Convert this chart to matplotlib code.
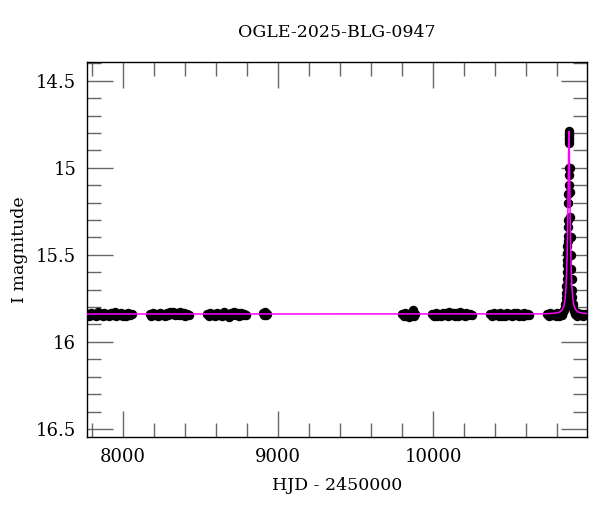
import matplotlib
matplotlib.use("Agg")
import matplotlib.pyplot as plt
from matplotlib.ticker import MultipleLocator

# --- data ---
TITLE = "OGLE-2025-BLG-0947"

s1_t = [7772, 7780, 7790, 7801, 7812, 7823, 7834, 7845, 7856, 7867, 7878, 7889, 7900, 7911,
        7922, 7933, 7944, 7955, 7966, 7977, 7988, 7999, 8010, 8021, 8032, 8043, 8054]
s1_m = [15.842, 15.850, 15.835, 15.848, 15.838, 15.852, 15.830, 15.845, 15.840, 15.853,
        15.832, 15.846, 15.838, 15.850, 15.834, 15.844, 15.829, 15.851, 15.840, 15.846,
        15.833, 15.849, 15.838, 15.852, 15.836, 15.845, 15.842]

s2_t = [8170, 8181, 8192, 8203, 8214, 8225, 8236, 8247, 8258, 8269, 8280, 8291,
        8302, 8313, 8324, 8335, 8346, 8357, 8368, 8379, 8390, 8401, 8412, 8423]
s2_m = [15.842, 15.850, 15.836, 15.848, 15.840, 15.853, 15.834, 15.846, 15.839, 15.851,
        15.835, 15.845, 15.830, 15.842, 15.828, 15.846, 15.832, 15.844, 15.829, 15.847,
        15.836, 15.850, 15.840, 15.846]

s3_t = [8540, 8551, 8562, 8573, 8584, 8595, 8606, 8617, 8628, 8639, 8650, 8661,
        8672, 8683, 8694, 8705, 8716, 8727, 8738, 8749, 8760, 8771, 8782, 8793]
s3_m = [15.838, 15.850, 15.834, 15.847, 15.840, 15.852, 15.832, 15.846, 15.837, 15.851,
        15.831, 15.845, 15.838, 15.855, 15.834, 15.848, 15.830, 15.846, 15.836, 15.852,
        15.833, 15.847, 15.838, 15.845]

s4_t = [8903, 8910, 8917, 8924, 8931]
s4_m = [15.836, 15.848, 15.830, 15.846, 15.840]

s5_t = [9803, 9812, 9821, 9830, 9839, 9848, 9857, 9866, 9870, 9875, 9884]
s5_m = [15.840, 15.852, 15.836, 15.849, 15.842, 15.855, 15.838, 15.846, 15.818, 15.850, 15.842]

s6_t = [9996, 10007, 10018, 10029, 10040, 10051, 10062, 10073, 10084, 10095, 10106, 10117,
        10128, 10139, 10150, 10161, 10172, 10183, 10194, 10205, 10216, 10227, 10238, 10249]
s6_m = [15.842, 15.852, 15.836, 15.849, 15.838, 15.853, 15.832, 15.848, 15.835, 15.851,
        15.830, 15.846, 15.833, 15.852, 15.836, 15.849, 15.831, 15.847, 15.838, 15.854,
        15.834, 15.848, 15.840, 15.846]

s7_t = [10369, 10380, 10391, 10402, 10413, 10424, 10435, 10446, 10457, 10468, 10479, 10490,
        10501, 10512, 10523, 10534, 10545, 10556, 10567, 10578, 10589, 10600, 10611, 10622]
s7_m = [15.840, 15.850, 15.836, 15.848, 15.838, 15.852, 15.834, 15.849, 15.837, 15.853,
        15.835, 15.847, 15.838, 15.852, 15.836, 15.848, 15.834, 15.850, 15.838, 15.849,
        15.836, 15.848, 15.840, 15.845]

s8_t = [10736, 10747, 10758, 10769, 10780, 10791, 10802, 10813, 10824, 10835, 10842,
        10847, 10850, 10853, 10856, 10858, 10860, 10862, 10864, 10865, 10866, 10867,
        10868, 10869, 10870, 10871, 10872, 10873, 10874, 10875, 10876, 10877, 10878,
        10878, 10879, 10879, 10880, 10881, 10883, 10885, 10887, 10889, 10891, 10893,
        10895, 10897, 10899, 10902, 10905, 10910, 10916, 10927, 10938, 10949, 10960,
        10971, 10982, 10993]
s8_m = [15.838, 15.850, 15.834, 15.848, 15.840, 15.852, 15.836, 15.849, 15.833, 15.845,
        15.830, 15.815, 15.800, 15.780, 15.750, 15.720, 15.680, 15.640, 15.600, 15.560,
        15.530, 15.490, 15.450, 15.420, 15.390, 15.340, 15.300, 15.200, 15.150, 15.100,
        15.040, 15.000, 14.860, 14.830, 14.810, 14.790, 14.800, 14.840, 15.000, 15.140,
        15.280, 15.400, 15.500, 15.580, 15.640, 15.700, 15.740, 15.780, 15.805, 15.825,
        15.840, 15.850, 15.836, 15.848, 15.840, 15.852, 15.838, 15.846]

model_t = [7768, 10700, 10790, 10820, 10835, 10845, 10852, 10858, 10863, 10867, 10870,
           10873, 10876, 10878, 10880, 10883, 10886, 10889, 10893, 10898, 10904, 10911,
           10921, 10936, 10966, 10993]
model_m = [15.840, 15.839, 15.835, 15.828, 15.815, 15.795, 15.760, 15.700, 15.600, 15.470,
           15.320, 15.100, 14.880, 14.790, 14.880, 15.100, 15.320, 15.470, 15.600, 15.700,
           15.760, 15.795, 15.815, 15.828, 15.835, 15.838]

seasons = [(s1_t, s1_m), (s2_t, s2_m), (s3_t, s3_m), (s4_t, s4_m),
           (s5_t, s5_m), (s6_t, s6_m), (s7_t, s7_m), (s8_t, s8_m)]

plt.rcParams["font.family"] = "DejaVu Serif"
fig = plt.figure(figsize=(6, 5.12), dpi=100)
ax = fig.add_axes([0.1455, 0.147, 0.8325, 0.7325])

for t, m in seasons:
    ax.plot(t, m, "o", color="black", ms=6.8, mew=0, zorder=2)
ax.plot(model_t, model_m, color="#ff00ff", lw=1.1, zorder=3)

ax.set_xlim(7768, 10993)
ax.set_ylim(16.545, 14.39)

ax.xaxis.set_major_locator(MultipleLocator(1000))
ax.xaxis.set_minor_locator(MultipleLocator(200))
ax.yaxis.set_major_locator(MultipleLocator(0.5))
ax.yaxis.set_minor_locator(MultipleLocator(0.1))
ax.yaxis.set_major_formatter(plt.FuncFormatter(lambda v, p: f"{v:g}"))

ax.tick_params(which="both", direction="in", top=True, right=True, color="0.4", width=1)
ax.tick_params(which="major", length=19, labelsize=13, pad=8)
ax.tick_params(which="minor", length=10)
for sp in ax.spines.values():
    sp.set_linewidth(1)

ax.set_title(TITLE, fontsize=12.5, pad=18)
ax.set_xlabel("HJD - 2450000", fontsize=12.5, labelpad=8)
ax.set_ylabel("I magnitude", fontsize=12.5, labelpad=6)

fig.savefig("out.png", dpi=100)
